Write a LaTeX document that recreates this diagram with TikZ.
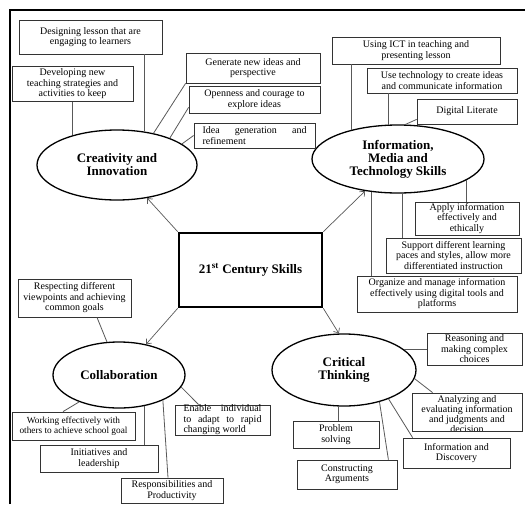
\documentclass[tikz,border=0pt]{standalone}
\usepackage{fontspec}
\setmainfont{Liberation Serif}
\usetikzlibrary{shapes.geometric,arrows.meta}
\begin{document}
\begin{tikzpicture}[x=1pt,y=-1pt,
  box/.style={draw=black!80,line width=0.8pt,rectangle,inner sep=0pt,align=center,
    font=\fontsize{10}{10.5}\selectfont},
  ell/.style={draw=black,line width=1.3pt,ellipse,inner sep=0pt,align=center,
    font=\fontsize{13}{13}\selectfont\bfseries},
  conn/.style={draw=black!65,line width=0.8pt},
  arr/.style={draw=black!65,line width=0.7pt,-{Straight Barb[length=4pt,width=7pt]}},
]
\useasboundingbox (0,0) rectangle (525,504);
\fill[white] (0,0) rectangle (525,504);
% outer frame (left and top visible)
\draw[line width=2.5pt] (10,504) -- (10,10) -- (525,10);

% centre
\node[draw=black,line width=2.6pt,rectangle,minimum width=143,minimum height=74,
  font=\fontsize{13}{13}\selectfont\bfseries] (S) at (250.5,270) {21\textsuperscript{st} Century Skills};

% ellipses
\node[ell,minimum width=160,minimum height=70] (cr) at (117,165) {Creativity and\\Innovation};
\node[ell,minimum width=172,minimum height=68] (info) at (398,159) {Information,\\Media and\\Technology Skills};
\node[ell,minimum width=132,minimum height=66] (col) at (119,375) {Collaboration};
\node[ell,minimum width=144,minimum height=72] (ct) at (344,370) {Critical\\Thinking};

% creativity boxes
\node[box,minimum width=143,minimum height=34] (A) at (90.5,37) {Designing lesson that are\\engaging to learners};
\node[box,minimum width=121,minimum height=35] (B) at (72.5,84) {Developing new\\teaching strategies and\\activities to keep};
\node[box,minimum width=134,minimum height=30] (C) at (253,68) {Generate new ideas and\\perspective};
\node[box,minimum width=131,minimum height=27] (D) at (254.5,99.5) {Openness and courage to\\explore ideas};
\node[box,minimum width=121,minimum height=25,align=left] (E) at (254.5,135.5)
  {\makebox[104pt][s]{Idea generation and}\\refinement};

% information boxes
\node[box,minimum width=168,minimum height=27] (F) at (416,50.5) {Using ICT in teaching and\\presenting lesson};
\node[box,minimum width=150,minimum height=25] (G) at (442,80.5) {Use technology to create ideas\\and communicate information};
\node[box,minimum width=100,minimum height=25] (H) at (467,111.5) {Digital Literate};
\node[box,minimum width=104,minimum height=33] (I) at (467,218.5) {Apply information\\effectively and\\ethically};
\node[box,minimum width=135,minimum height=35] (J) at (453.5,255.5) {Support different learning\\paces and styles, allow more\\differentiated instruction};
\node[box,minimum width=160,minimum height=36] (K) at (437,294) {Organize and manage information\\effectively using digital tools and\\platforms};

% collaboration boxes
\node[box,minimum width=113,minimum height=38] (L) at (74.5,298) {Respecting different\\viewpoints and achieving\\common goals};
\node[box,minimum width=95,minimum height=30,align=left] (M) at (222.5,420)
  {\makebox[78pt][s]{Enable individual}\\\makebox[78pt][s]{to adapt to rapid}\\changing world};
\node[box,minimum width=123,minimum height=28,font=\fontsize{9.3}{10.5}\selectfont] (N) at (73.5,426) {Working effectively with\\others to achieve school goal};
\node[box,minimum width=118,minimum height=27] (O) at (99,458.5) {Initiatives and\\leadership};
\node[box,minimum width=102,minimum height=25] (P) at (172,490.5) {Responsibilities and\\Productivity};

% critical thinking boxes
\node[box,minimum width=95,minimum height=32] (Q) at (474.5,349) {Reasoning and\\making complex\\choices};
\node[box,minimum width=110,minimum height=38,
  path picture={\node[anchor=north,align=center,inner sep=0pt,font=\fontsize{10}{10.2}\selectfont]
    at ([yshift=-1.5pt]path picture bounding box.north)
    {Analyzing and\\evaluating information\\and judgments and\\decision};}] (R) at (467,412) {};
\node[box,minimum width=107,minimum height=30] (Dc) at (456.5,453) {Information and\\Discovery};
\node[box,minimum width=86,minimum height=27] (T) at (336,434.5) {Problem\\solving};
\node[box,minimum width=100,minimum height=29] (U) at (347,474.5) {Constructing\\Arguments};

% arrows from centre
\draw[arr] (S.north west) -- (cr);
\draw[arr] (S.north east) -- (info);
\draw[arr] (S.south west) -- (col);
\draw[arr] (S.south east) -- (ct.98);

% creativity connectors
\draw[conn] (A.south -| cr.51.85) -- (cr.51.85);
\draw[conn] (B.south -| cr.146.4) -- (cr.146.4);
\draw[conn] (cr.41) -- (C.south west);
\draw[conn] (cr.27.9) -- ([yshift=6pt]D.south west);
\draw[conn] (cr.18) -- (E.west);

% information connectors
\draw[conn] (F.south -| info.148) -- (info.148);
\draw[conn] (G.south -| info.106.5) -- (info.106.5);
\draw[conn] (info.78.3) -- ([yshift=5pt]H.south west);
\draw[conn] (info.231.3) -- (info.231.3 |- K.north);
\draw[conn] (info.278.4) -- (info.278.4 |- J.north);
\draw[conn] (info.343.6) -- (info.343.6 |- I.north);

% collaboration connectors
\draw[conn] ([xshift=22.5pt]L.south) -- (col.110.3);
\draw[conn] (col.349.2) -- ([xshift=24pt]M.north west);
\draw[conn] (col.214.3) -- ([xshift=-10.5pt]N.north);
\draw[conn] (col.309.3) -- (col.309.3 |- O.north);
\draw[conn] (col.330.8) -- ([xshift=-4pt]P.north);

% critical thinking connectors
\draw[conn] (ct.19.7) -- (ct.19.7 -| Q.west);
\draw[conn] (ct.353.5) -- ([xshift=21pt]R.north west);
\draw[conn] (ct.327.1) -- ([xshift=10pt]Dc.north west);
\draw[conn] (ct.262.1) -- (ct.262.1 |- T.north);
\draw[conn] (ct.318) -- ([xshift=-9pt]U.north east);
\end{tikzpicture}
\end{document}
